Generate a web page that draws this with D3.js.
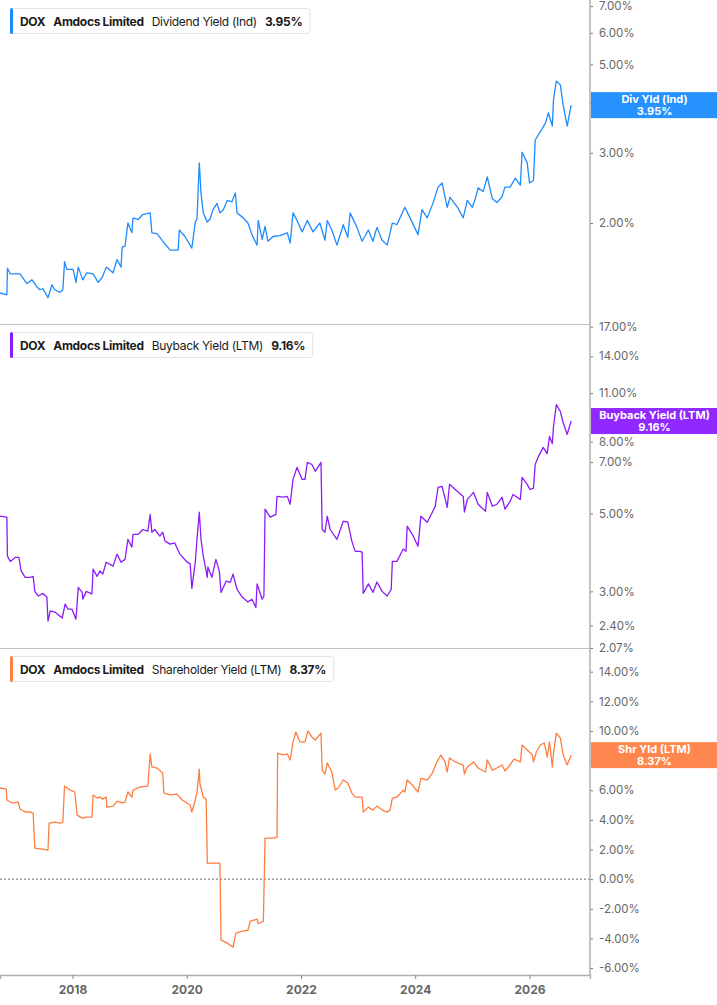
<!DOCTYPE html>
<html>
<head>
<meta charset="utf-8">
<script src="https://cdn.jsdelivr.net/npm/d3@7"></script>
<style>
  body { margin: 0; background: #fff; }
  svg { display: block; }
</style>
</head>
<body>
<div id="chart"></div>
<script>
// ---- data (dates as decimal years, values in %) ----
const divDates = [2016.73,2016.85,2016.86,2016.91,2017.08,2017.20,2017.29,2017.38,2017.43,2017.48,2017.57,2017.64,2017.69,2017.78,2017.83,2017.86,2017.90,2018.01,2018.06,2018.10,2018.18,2018.25,2018.36,2018.45,2018.52,2018.59,2018.71,2018.78,2018.85,2018.87,2018.92,2018.97,2019.04,2019.06,2019.15,2019.23,2019.36,2019.39,2019.48,2019.58,2019.71,2019.85,2019.87,2019.97,2020.09,2020.15,2020.18,2020.22,2020.25,2020.29,2020.36,2020.41,2020.46,2020.53,2020.58,2020.64,2020.71,2020.79,2020.85,2020.88,2020.99,2021.07,2021.14,2021.23,2021.25,2021.32,2021.37,2021.42,2021.51,2021.63,2021.76,2021.81,2021.86,2021.93,2022.02,2022.11,2022.21,2022.33,2022.42,2022.46,2022.54,2022.63,2022.74,2022.82,2022.86,2022.98,2023.07,2023.18,2023.26,2023.33,2023.42,2023.51,2023.60,2023.68,2023.82,2023.91,2024.05,2024.12,2024.21,2024.31,2024.40,2024.47,2024.56,2024.61,2024.74,2024.84,2024.91,2025.00,2025.05,2025.10,2025.19,2025.26,2025.35,2025.43,2025.52,2025.57,2025.66,2025.75,2025.84,2025.87,2025.96,2026.00,2026.07,2026.10,2026.19,2026.28,2026.33,2026.40,2026.42,2026.47,2026.54,2026.59,2026.66,2026.73];
const divValues = [1.335,1.32,1.54,1.49,1.49,1.41,1.44,1.38,1.36,1.37,1.30,1.40,1.36,1.34,1.36,1.60,1.53,1.53,1.42,1.55,1.44,1.50,1.49,1.42,1.46,1.55,1.50,1.62,1.55,1.74,1.75,2.00,1.89,2.06,2.04,2.10,2.12,1.89,1.88,1.80,1.71,1.71,1.92,1.85,1.73,2.01,2.05,2.83,2.38,2.12,2.01,2.05,2.16,2.24,2.12,2.16,2.28,2.26,2.38,2.12,2.06,2.00,1.87,1.76,2.03,1.82,1.96,1.80,1.85,1.86,1.89,1.78,2.12,2.03,1.90,2.03,1.90,2.00,1.81,2.03,1.92,1.76,1.98,1.84,2.12,1.95,1.80,1.92,1.80,1.95,1.81,1.76,2.00,1.98,2.19,2.06,1.87,2.16,2.06,2.24,2.46,2.52,2.19,2.32,2.19,2.06,2.28,2.19,2.30,2.45,2.40,2.61,2.30,2.25,2.33,2.46,2.46,2.59,2.49,3.01,2.83,2.52,2.56,3.23,3.39,3.56,3.78,3.50,4.07,4.54,4.44,3.95,3.50,3.95];

const buybackDates = [2016.73,2016.85,2016.86,2016.91,2017.00,2017.06,2017.10,2017.17,2017.26,2017.31,2017.34,2017.40,2017.48,2017.55,2017.57,2017.61,2017.69,2017.82,2017.87,2017.92,2017.99,2018.06,2018.10,2018.17,2018.18,2018.24,2018.34,2018.36,2018.43,2018.48,2018.53,2018.59,2018.71,2018.78,2018.85,2018.92,2018.97,2019.04,2019.06,2019.15,2019.23,2019.32,2019.36,2019.39,2019.44,2019.53,2019.58,2019.62,2019.71,2019.79,2019.88,2020.01,2020.06,2020.09,2020.15,2020.18,2020.22,2020.25,2020.29,2020.36,2020.37,2020.44,2020.51,2020.57,2020.60,2020.69,2020.76,2020.81,2020.88,2020.97,2021.07,2021.14,2021.21,2021.23,2021.32,2021.35,2021.37,2021.46,2021.56,2021.58,2021.69,2021.76,2021.81,2021.86,2021.93,2022.02,2022.07,2022.11,2022.19,2022.25,2022.35,2022.37,2022.42,2022.46,2022.51,2022.63,2022.74,2022.82,2022.89,2022.95,2023.03,2023.07,2023.09,2023.18,2023.26,2023.33,2023.42,2023.51,2023.58,2023.60,2023.68,2023.79,2023.84,2023.86,2023.95,2024.05,2024.10,2024.21,2024.30,2024.35,2024.40,2024.47,2024.56,2024.60,2024.70,2024.84,2024.86,2024.91,2025.02,2025.10,2025.23,2025.26,2025.35,2025.43,2025.52,2025.57,2025.66,2025.71,2025.84,2025.87,2025.96,2026.01,2026.07,2026.10,2026.15,2026.24,2026.31,2026.35,2026.40,2026.42,2026.47,2026.54,2026.59,2026.66,2026.73];
const buybackValues = [4.91,4.88,3.78,3.65,3.75,3.75,3.43,3.29,3.29,3.31,3.00,2.91,2.96,2.89,2.47,2.64,2.62,2.52,2.76,2.67,2.67,2.50,3.08,2.98,2.85,3.00,2.95,3.47,3.31,3.43,3.36,3.63,3.54,3.83,3.63,3.70,4.22,4.01,4.36,4.36,4.50,4.45,4.97,4.42,4.50,4.31,4.42,4.17,4.09,4.12,3.83,3.63,3.60,3.06,3.63,4.22,5.04,4.22,3.78,3.29,3.52,3.29,3.70,3.43,2.98,3.21,3.18,3.36,3.04,2.89,2.80,2.85,2.70,3.15,2.85,2.91,5.14,4.88,4.97,5.59,5.56,5.59,5.31,6.25,6.76,6.25,6.25,6.99,6.89,6.59,6.99,4.50,4.42,4.91,4.50,4.22,4.75,4.72,4.17,3.90,3.90,3.88,2.96,3.15,2.98,3.19,3.00,2.91,3.04,3.65,3.65,3.96,3.90,4.60,4.36,4.03,4.91,4.72,5.04,5.24,5.93,5.97,5.20,6.05,5.85,5.59,5.04,5.48,5.74,5.31,5.07,5.74,5.24,5.31,5.56,5.14,5.41,5.66,5.48,6.33,6.05,5.85,5.90,6.89,7.22,7.71,7.40,8.28,7.90,8.84,10.2,9.75,9.07,8.39,9.16];

const shrDates = [2016.73,2016.84,2016.85,2016.94,2017.05,2017.08,2017.17,2017.26,2017.31,2017.34,2017.47,2017.57,2017.59,2017.69,2017.78,2017.83,2017.86,2017.96,2018.04,2018.08,2018.17,2018.25,2018.34,2018.36,2018.43,2018.48,2018.53,2018.59,2018.60,2018.71,2018.78,2018.87,2018.92,2018.97,2019.04,2019.06,2019.18,2019.32,2019.36,2019.39,2019.48,2019.58,2019.60,2019.71,2019.83,2019.92,2020.06,2020.09,2020.15,2020.18,2020.22,2020.23,2020.29,2020.34,2020.36,2020.46,2020.58,2020.60,2020.71,2020.81,2020.86,2020.97,2021.07,2021.11,2021.23,2021.25,2021.34,2021.37,2021.51,2021.58,2021.59,2021.69,2021.76,2021.81,2021.86,2021.91,2021.98,2022.07,2022.12,2022.19,2022.25,2022.35,2022.37,2022.42,2022.46,2022.54,2022.60,2022.65,2022.74,2022.82,2022.89,2022.95,2023.03,2023.07,2023.09,2023.18,2023.26,2023.33,2023.42,2023.51,2023.56,2023.60,2023.68,2023.79,2023.82,2023.86,2023.95,2024.05,2024.10,2024.21,2024.30,2024.38,2024.45,2024.52,2024.56,2024.60,2024.70,2024.84,2024.86,2024.91,2025.02,2025.10,2025.23,2025.26,2025.35,2025.43,2025.52,2025.57,2025.66,2025.73,2025.84,2025.87,2025.96,2026.05,2026.07,2026.12,2026.19,2026.26,2026.31,2026.35,2026.40,2026.42,2026.47,2026.54,2026.59,2026.66,2026.73];
const shrValues = [6.15,6.08,5.34,5.14,5.20,4.73,4.53,4.53,4.46,2.09,2.03,1.96,3.78,3.85,3.78,3.85,6.28,6.01,5.88,4.32,4.12,4.19,4.19,5.68,5.47,5.54,5.40,5.54,4.86,4.93,5.27,5.14,5.20,5.88,5.54,6.01,6.22,6.28,8.45,7.57,7.50,7.16,5.81,5.68,5.74,5.34,5.00,4.53,5.34,5.88,7.43,6.49,5.54,5.40,1.08,1.08,1.08,-4.12,-4.32,-4.59,-3.65,-3.51,-3.45,-2.84,-2.70,-3.00,-2.84,2.77,2.77,2.84,8.51,8.38,8.45,8.04,9.26,9.93,9.26,9.26,10.00,9.60,9.39,9.86,7.36,7.09,7.84,7.23,6.01,6.15,6.69,6.49,5.81,5.54,5.54,5.54,4.53,4.86,4.66,4.93,4.66,4.53,4.66,5.47,5.54,6.01,5.88,6.69,6.35,5.88,6.82,6.69,7.16,7.91,8.38,7.91,7.23,8.18,7.91,7.70,7.09,7.57,7.91,7.50,7.23,8.04,7.36,7.50,7.70,7.30,7.70,8.11,7.91,9.05,8.72,8.38,7.91,8.58,9.05,9.19,8.25,9.26,7.57,8.51,9.86,9.53,8.38,7.70,8.37];

const divTicks = [2, 3, 4, 5, 6, 7];
const buybackTicks = [2.07, 2.4, 3, 5, 7, 8, 11, 14, 17];
const shrTicks = [-6, -4, -2, 0, 2, 4, 6, 8, 10, 12, 14];

// ---- layout ----
const width = 717, height = 1005;
const plotRight = 590;
const plotBottom = 975;
const font = "Inter, 'Noto Sans', sans-serif";

function yearToDate(t) {
    const y = Math.floor(t);
    const a = new Date(y, 0, 1), b = new Date(y + 1, 0, 1);
    return new Date(+a + (t - y) * (b - a));
}

const x = d3.scaleTime()
    .domain([yearToDate(2016.73), yearToDate(2027.06)])
    .range([0, plotRight]);

const panels = [
    { id: "div", top: 0, bottom: 324, color: "#1a8cff", lineColor: "#1f8bff",
      y: d3.scaleLog().domain([1.116, 7.25]).range([324, 0]),
      ticks: divTicks, dates: divDates, values: divValues,
      metric: "Dividend Yield (Ind)", tag: "Div Yld (Ind)" },
    { id: "bb", top: 324, bottom: 648, color: "#8a1cff", lineColor: "#8b1cf7",
      y: d3.scaleLog().domain([2.07, 17.3]).range([648, 324]),
      ticks: buybackTicks, dates: buybackDates, values: buybackValues,
      metric: "Buyback Yield (LTM)", tag: "Buyback Yield (LTM)" },
    { id: "shr", top: 648, bottom: plotBottom, color: "#ff7f45", lineColor: "#ff7d40",
      y: d3.scaleLinear().domain([-6.47, 15.6]).range([plotBottom, 648]),
      ticks: shrTicks, dates: shrDates, values: shrValues,
      metric: "Shareholder Yield (LTM)", tag: "Shr Yld (LTM)", zero: true }
];

const svg = d3.select("#chart").append("svg")
    .attr("width", width)
    .attr("height", height)
    .style("font-family", font);

const fmt = d => d.toFixed(2) + "%";

panels.forEach((p, i) => {
    const data = p.dates.map((t, k) => ({ date: yearToDate(t), value: p.values[k] }));

    svg.append("clipPath").attr("id", "clip-" + p.id)
        .append("rect")
        .attr("x", 0).attr("y", p.top)
        .attr("width", plotRight).attr("height", p.bottom - p.top);

    // separator under the panel
    if (i < panels.length - 1) {
        svg.append("line")
            .attr("x1", 0).attr("x2", plotRight)
            .attr("y1", p.bottom + 0.5).attr("y2", p.bottom + 0.5)
            .attr("stroke", "#c4c4c4").attr("stroke-width", 1);
    }

    if (p.zero) {
        svg.append("line")
            .attr("x1", 0).attr("x2", plotRight)
            .attr("y1", p.y(0)).attr("y2", p.y(0))
            .attr("stroke", "#666").attr("stroke-width", 1)
            .attr("stroke-dasharray", "2,2");
    }

    const line = d3.line()
        .x(d => x(d.date))
        .y(d => p.y(d.value));

    svg.append("path")
        .datum(data)
        .attr("clip-path", `url(#clip-${p.id})`)
        .attr("fill", "none")
        .attr("stroke", p.lineColor)
        .attr("stroke-width", 1.3)
        .attr("stroke-linejoin", "round")
        .attr("d", line);

    // right axis
    const axis = svg.append("g")
        .attr("transform", `translate(${plotRight},0)`)
        .call(d3.axisRight(p.y).tickValues(p.ticks).tickFormat(fmt).tickSize(3).tickPadding(6));
    axis.select(".domain").remove();
    axis.selectAll(".tick line").attr("stroke", "#777");
    axis.selectAll(".tick text")
        .attr("fill", "#666")
        .style("font-size", "11.5px")
        .style("font-family", font);

    // last value tag (sits over the tick label it covers, as in the original)
    const last = data[data.length - 1];
    const ly = p.y(last.value);
    axis.selectAll(".tick")
        .filter(d => Math.abs(p.y(d) - ly) < 13)
        .select("text").attr("fill-opacity", 0.25);
    const tag = svg.append("g").attr("transform", `translate(${plotRight + 1},${ly})`);
    tag.append("rect")
        .attr("x", 0).attr("y", -13)
        .attr("width", width - plotRight - 1).attr("height", 26)
        .attr("fill", p.color).attr("fill-opacity", 0.95);
    tag.append("text")
        .attr("x", (width - plotRight) / 2).attr("y", -2)
        .attr("text-anchor", "middle")
        .attr("fill", "#fff").style("font-size", "11px").style("font-weight", 700)
        .text(p.tag);
    tag.append("text")
        .attr("x", (width - plotRight) / 2).attr("y", 10)
        .attr("text-anchor", "middle")
        .attr("fill", "#fff").style("font-size", "11px").style("font-weight", 700)
        .text(fmt(last.value));

    // legend box
    const lg = svg.append("g").attr("transform", `translate(10,${p.top + 8})`);
    const box = lg.append("rect")
        .attr("x", 0.5).attr("y", 0.5).attr("height", 25).attr("rx", 3)
        .attr("fill", "#fff").attr("stroke", "#e3e3e3");
    lg.append("rect")
        .attr("x", 0).attr("y", 0).attr("width", 3).attr("height", 26).attr("rx", 1.5)
        .attr("fill", p.color);
    const parts = [
        { t: "DOX", w: 700 },
        { t: "Amdocs Limited", w: 700 },
        { t: p.metric, w: 400 },
        { t: fmt(last.value), w: 700 }
    ];
    let cx = 10;
    parts.forEach(part => {
        const tx = lg.append("text")
            .attr("x", cx).attr("y", 17.5)
            .attr("fill", "#1a1a1a")
            .style("font-size", "12px")
            .style("letter-spacing", "-0.3px")
            .style("font-weight", part.w)
            .text(part.t);
        cx += tx.node().getComputedTextLength() + 8;
    });
    box.attr("width", cx - 1);
});

// vertical axis line
svg.append("line")
    .attr("x1", plotRight).attr("x2", plotRight)
    .attr("y1", 0).attr("y2", plotBottom + 1)
    .attr("stroke", "#b0b0b0").attr("stroke-width", 1.5);

// bottom axis
const xAxis = svg.append("g")
    .attr("transform", `translate(0,${plotBottom})`)
    .call(d3.axisBottom(x).ticks(d3.timeYear.every(2)).tickFormat(d3.timeFormat("%Y")).tickSize(4).tickPadding(6));
xAxis.select(".domain").attr("stroke", "#b0b0b0").attr("stroke-width", 1.5);
xAxis.selectAll(".tick line").attr("stroke", "#888");
xAxis.selectAll(".tick text")
    .attr("fill", "#666")
    .style("font-size", "12px")
    .style("font-weight", 700)
    .style("font-family", font);
</script>
</body>
</html>
